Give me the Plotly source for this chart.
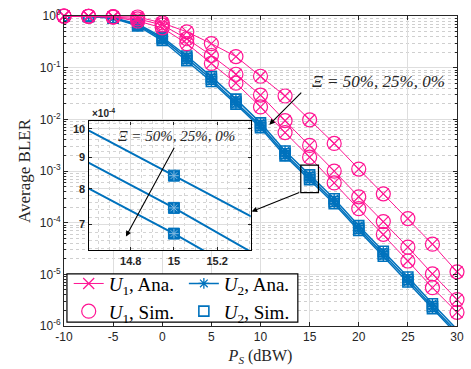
import plotly.graph_objects as go

# Transmit power P_S (dBW)
ps_db = [-10, -7.5, -5, -2.5, 0, 2.5, 5, 7.5, 10, 12.5, 15, 17.5, 20, 22.5, 25, 27.5, 30]

# Average BLER of U1 for Xi = 50 %, 25 %, 0 %
u1_xi50 = [0.999, 0.99, 0.97, 0.957, 0.735, 0.494, 0.292, 0.164, 0.0682, 0.0283, 9.8e-3,
           3.41e-3, 1.09e-3, 3.62e-4, 1.2e-4, 3.83e-5, 1.12e-5]
u1_xi25 = [0.999, 0.99, 0.96, 0.877, 0.673, 0.363, 0.172, 0.0745, 0.0295, 9.4e-3, 3.13e-3,
           9.95e-4, 3.17e-4, 1.05e-4, 3.36e-5, 1.02e-5, 3.25e-6]
u1_xi0 = [0.998, 0.985, 0.95, 0.80, 0.59, 0.292, 0.121, 0.0501, 0.0174, 5.54e-3, 1.85e-3,
          5.87e-4, 1.87e-4, 5.95e-5, 1.81e-5, 5.52e-6, 1.84e-6]

# Average BLER of U2 for Xi = 50 %, 25 %, 0 %
u2_xi50 = [0.999, 0.987, 0.925, 0.70, 0.39, 0.168, 0.067, 0.0246, 8.55e-3, 2.44e-3, 8.4e-4,
           2.9e-4, 8.75e-5, 2.79e-5, 8.87e-6, 2.7e-6, 8.6e-7]
u2_xi25 = [0.999, 0.985, 0.915, 0.673, 0.363, 0.151, 0.0597, 0.0217, 7.55e-3, 2.16e-3, 7.45e-4,
           2.57e-4, 7.75e-5, 2.47e-5, 7.85e-6, 2.39e-6, 7.6e-7]
u2_xi0 = [0.998, 0.983, 0.905, 0.645, 0.335, 0.137, 0.054, 0.0197, 6.85e-3, 1.96e-3, 6.77e-4,
          2.33e-4, 7.05e-5, 2.24e-5, 7.1e-6, 2.17e-6, 6.9e-7]

x_ticks = [-10, -5, 0, 5, 10, 15, 20, 25, 30]
y_exponents = [0, -1, -2, -3, -4, -5, -6]
inset_x_ticks = [14.8, 15, 15.2]
inset_y_ticks = [7, 8, 9, 10]   # x 1e-4

PINK = '#ff1493'
BLUE = '#0072bd'
AXC = '#262626'
SERIF = 'Liberation Serif, Times New Roman, serif'
SANS = 'Liberation Sans, Arial, sans-serif'

u1_curves = [u1_xi50, u1_xi25, u1_xi0]
u2_curves = [u2_xi50, u2_xi25, u2_xi0]

fig = go.Figure()

# U2 curves (drawn first so that U1 sits on top)
for i, yv in enumerate(u2_curves):
    fig.add_trace(go.Scatter(
        x=ps_db, y=yv, mode='lines+markers',
        line=dict(color=BLUE, width=1.5),
        marker=dict(symbol='asterisk-open', size=9, color=BLUE, line=dict(color=BLUE, width=1.3)),
        name='<i>U</i><sub>2</sub>, Ana.', legend='legend2', legendrank=1,
        showlegend=(i == 0)))
    fig.add_trace(go.Scatter(
        x=ps_db, y=yv, mode='markers',
        marker=dict(symbol='square-open', size=10, color=BLUE, line=dict(color=BLUE, width=1.6)),
        name='<i>U</i><sub>2</sub>, Sim.', legend='legend2', legendrank=2,
        showlegend=(i == 0)))

for i, yv in enumerate(u1_curves):
    fig.add_trace(go.Scatter(
        x=ps_db, y=yv, mode='lines+markers',
        line=dict(color=PINK, width=1),
        marker=dict(symbol='x-thin-open', size=11, color=PINK, line=dict(color=PINK, width=1.2)),
        name='<i>U</i><sub>1</sub>, Ana.', legend='legend', legendrank=1,
        showlegend=(i == 0), cliponaxis=False))
    fig.add_trace(go.Scatter(
        x=ps_db, y=yv, mode='markers',
        marker=dict(symbol='circle-open', size=14, color=PINK, line=dict(color=PINK, width=1.2)),
        name='<i>U</i><sub>1</sub>, Sim.', legend='legend', legendrank=2,
        showlegend=(i == 0), cliponaxis=False))

# Zoomed view of U2 around 15 dBW
for yv in u2_curves:
    fig.add_trace(go.Scatter(
        x=ps_db, y=yv, mode='lines+markers', xaxis='x2', yaxis='y2',
        line=dict(color=BLUE, width=2),
        marker=dict(symbol='square', size=11, color=BLUE,
                    line=dict(color=BLUE, width=1)),
        showlegend=False))
    fig.add_trace(go.Scatter(
        x=ps_db, y=yv, mode='markers', xaxis='x2', yaxis='y2',
        marker=dict(symbol='asterisk-open', size=8, color='#7fb8e0',
                    line=dict(color='#7fb8e0', width=1)),
        showlegend=False))

grid = '#dedede'
legend_style = dict(
    orientation='v', yanchor='top', xanchor='left', y=0.198,
    bgcolor='rgba(0,0,0,0)', borderwidth=0, tracegroupgap=0,
    font=dict(family=SERIF, size=19, color='black'), itemwidth=30,
)
fig.update_layout(
    width=471, height=369,
    margin=dict(l=64, r=7, t=11, b=43),
    paper_bgcolor='white', plot_bgcolor='white',
    showlegend=True,
    legend=dict(x=0.012, **legend_style),
    legend2=dict(x=0.305, **legend_style),
    xaxis=dict(
        range=[-10, 30], tickvals=x_ticks, ticktext=[str(v) for v in x_ticks],
        showline=True, linecolor=AXC, linewidth=1, mirror='ticks',
        ticks='inside', ticklen=4, tickcolor=AXC,
        showgrid=True, gridcolor=grid, gridwidth=1, zeroline=False,
        tickfont=dict(family=SANS, size=12, color=AXC),
        title=dict(text='<i>P<sub>S</sub></i> (dBW)', font=dict(family=SERIF, size=16, color=AXC),
                   standoff=6),
    ),
    yaxis=dict(
        type='log', range=[-6, 0],
        tickvals=[10 ** e for e in y_exponents],
        ticktext=['10<sup>%d</sup>' % e for e in y_exponents],
        showline=True, linecolor=AXC, linewidth=1, mirror='ticks',
        ticks='inside', ticklen=4, tickcolor=AXC,
        showgrid=True, gridcolor=grid, gridwidth=1, zeroline=False,
        tickfont=dict(family=SANS, size=12, color=AXC),
        minor=dict(dtick='D1', showgrid=True, gridcolor='#cfcfcf', griddash='dot',
                   ticks='inside', ticklen=2, tickcolor=AXC),
        title=dict(text='Average BLER', font=dict(family=SERIF, size=17, color=AXC),
                   standoff=4),
    ),
    xaxis2=dict(
        domain=[0.0625, 0.475], anchor='y2', range=[14.605, 15.355],
        tickvals=inset_x_ticks, ticktext=['<b>%g</b>' % v for v in inset_x_ticks],
        showline=True, linecolor='black', linewidth=1.3, mirror='ticks',
        ticks='inside', ticklen=3, tickcolor=AXC,
        showgrid=True, gridcolor=grid, zeroline=False,
        tickfont=dict(family=SANS, size=11, color=AXC),
        minor=dict(dtick=0.05, showgrid=True, gridcolor='#d4d4d4', griddash='dot'),
    ),
    yaxis2=dict(
        domain=[0.244, 0.660], anchor='x2', type='log',
        range=[-3.1965, -2.988],
        tickvals=[v * 1e-4 for v in inset_y_ticks],
        ticktext=['<b>%d</b>' % v for v in inset_y_ticks],
        showline=True, linecolor='black', linewidth=1.3, mirror='ticks',
        ticks='inside', ticklen=3, tickcolor=AXC,
        showgrid=True, gridcolor=grid, zeroline=False,
        tickfont=dict(family=SANS, size=11, color=AXC),
        minor=dict(tickvals=[v * 1e-5 for v in range(64, 104, 2)],
                   showgrid=True, gridcolor='#d4d4d4', griddash='dot'),
    ),
    shapes=[
        dict(type='rect', xref='x', yref='y', x0=14.1, x1=15.9, y0=3.8e-4, y1=1.3e-3,
             line=dict(color='black', width=1.2)),
        # legend frame
        dict(type='rect', xref='paper', yref='paper', x0=0.0075, x1=0.595, y0=0.0127, y1=0.168,
             fillcolor='white', line=dict(color='black', width=1.2), layer='above'),
    ],
    annotations=[
        dict(xref='x', yref='y', x=22.0, y=-1.262, text='<i>Ξ = 50%, 25%, 0%</i>',
             showarrow=False, font=dict(family=SERIF, size=17, color=AXC)),
        dict(xref='x', yref='y', x=10.9, y=-2.103, ax=14.3, ay=-1.453,
             axref='x', ayref='y', text='', showarrow=True, arrowhead=2,
             arrowsize=1, arrowwidth=1.1, arrowcolor='black'),
        dict(xref='x', yref='y', x=9.1, y=-3.786, ax=14.1, ay=-3.403,
             axref='x', ayref='y', text='', showarrow=True, arrowhead=2,
             arrowsize=1, arrowwidth=1.1, arrowcolor='black'),
        dict(xref='x2', yref='y2', x=15.014, y=-3.012, text='<i>Ξ = 50%, 25%, 0%</i>',
             showarrow=False, font=dict(family=SERIF, size=15, color=AXC)),
        dict(xref='x2', yref='y2', x=14.778, y=-3.174, ax=15.005, ay=-3.028,
             axref='x2', ayref='y2', text='', showarrow=True, arrowhead=2,
             arrowsize=1, arrowwidth=1.1, arrowcolor='black'),
        dict(xref='paper', yref='paper', x=0.065, y=0.662, xanchor='left', yanchor='bottom',
             text='<b>×10<sup>-4</sup></b>', showarrow=False,
             font=dict(family=SANS, size=10, color=AXC)),
    ],
)

fig.write_html('out.html')
